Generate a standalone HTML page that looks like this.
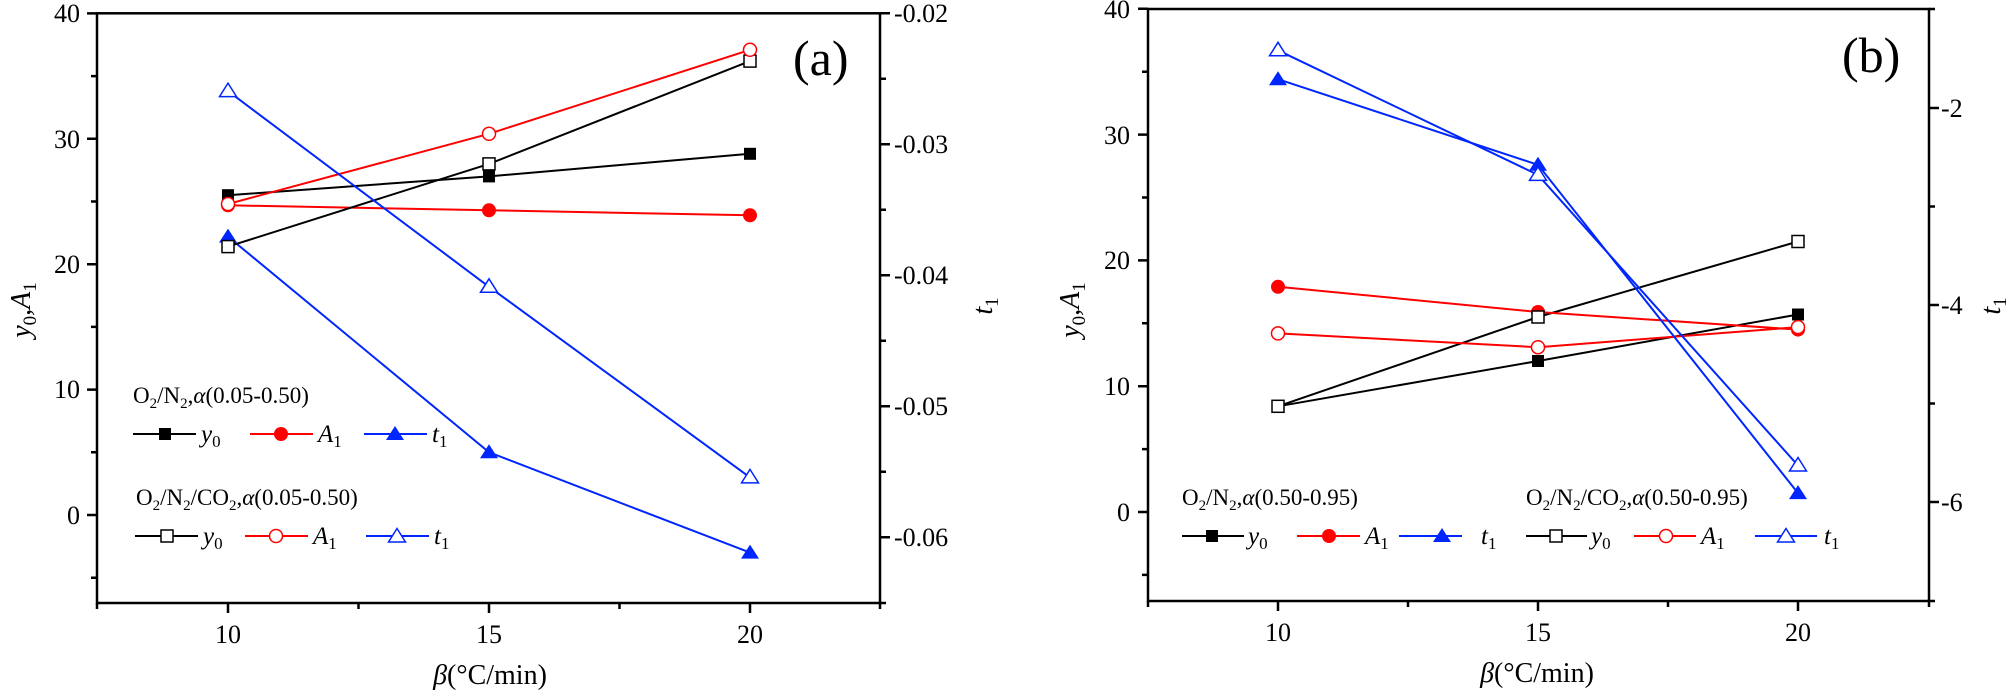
<!DOCTYPE html>
<html><head><meta charset="utf-8"><style>
html,body{margin:0;padding:0;background:#fff;}
svg{display:block;font-family:"Liberation Serif","Times New Roman",serif;}
svg text{font-family:"Liberation Serif","Times New Roman",serif;fill:#000;}
</style></head><body>
<svg width="2006" height="695" viewBox="0 0 2006 695" xmlns="http://www.w3.org/2000/svg" font-family="Liberation Serif, serif">
<!-- ===== Panel A ===== -->
<g stroke="#000" stroke-width="2.5" fill="none">
<rect x="97" y="13.3" width="783" height="589.7"/>
<path d="M97 13.4h-10M97 138.8h-10M97 264.2h-10M97 389.6h-10M97 515h-10M97 76.1h-6M97 201.5h-6M97 326.9h-6M97 452.3h-6M97 577.7h-6"/>
<path d="M880 13.3h10M880 144.3h10M880 275.3h10M880 406.3h10M880 537.3h10M880 78.8h6M880 209.8h6M880 340.8h6M880 471.8h6M880 603h6"/>
<path d="M228 603v10M489 603v10M750 603v10M97 603v6M358.5 603v6M619.5 603v6M880 603v6"/>
</g>
<g font-size="26">
<text x="80" y="22" text-anchor="end">40</text>
<text x="80" y="148" text-anchor="end">30</text>
<text x="80" y="273" text-anchor="end">20</text>
<text x="80" y="398" text-anchor="end">10</text>
<text x="80" y="524" text-anchor="end">0</text>
<text x="894" y="22">-0.02</text>
<text x="894" y="153">-0.03</text>
<text x="894" y="284">-0.04</text>
<text x="894" y="415">-0.05</text>
<text x="894" y="546">-0.06</text>
<text x="228" y="643" text-anchor="middle">10</text>
<text x="489" y="643" text-anchor="middle">15</text>
<text x="750" y="643" text-anchor="middle">20</text>
</g>
<text x="490" y="684" font-size="28" text-anchor="middle"><tspan font-style="italic">β</tspan>(°C/min)</text>
<text transform="translate(30,310) rotate(-90)" font-size="28" text-anchor="middle" font-style="italic">y<tspan font-size="19" dy="6" font-style="normal">0</tspan><tspan dy="-6">,A</tspan><tspan font-size="19" dy="6" font-style="normal">1</tspan></text>
<text transform="translate(992,306) rotate(-90)" font-size="28" text-anchor="middle" font-style="italic">t<tspan font-size="19" dy="6" font-style="normal">1</tspan></text>
<text x="793" y="75" font-size="50">(a)</text>

<g fill="none" stroke-width="2">
<polyline stroke="#000" points="228,195.2 489,176.4 750,153.8"/>
<polyline stroke="#f00" points="228,205.3 489,210.3 750,215.3"/>
<polyline stroke="#0026ff" points="228,236.6 489,452.3 750,552.6"/>
<polyline stroke="#000" points="228,246.6 489,163.9 750,61.1"/>
<polyline stroke="#f00" points="228,204 489,133.8 750,49.8"/>
<polyline stroke="#0026ff" points="228,91.1 489,286.8 750,477.4"/>
</g>
<g fill="#000"><rect x="222" y="189.2" width="12" height="12"/><rect x="483" y="170.4" width="12" height="12"/><rect x="744" y="147.8" width="12" height="12"/></g>
<g fill="#f00"><circle cx="228" cy="205.3" r="7"/><circle cx="489" cy="210.3" r="7"/><circle cx="750" cy="215.3" r="7"/></g>
<g fill="#0026ff"><path d="M228 228.6l-9 14h18z"/><path d="M489 444.3l-9 14h18z"/><path d="M750 544.6l-9 14h18z"/></g>
<g fill="#fff" stroke="#000" stroke-width="1.5"><rect x="222" y="240.6" width="12" height="12"/><rect x="483" y="157.9" width="12" height="12"/><rect x="744" y="55.1" width="12" height="12"/></g>
<g fill="#fff" stroke="#f00" stroke-width="1.5"><circle cx="228" cy="204" r="6.5"/><circle cx="489" cy="133.8" r="6.5"/><circle cx="750" cy="49.8" r="6.5"/></g>
<g fill="#fff" stroke="#0026ff" stroke-width="1.5"><path d="M228 83.1l-8.5 13.5h17z"/><path d="M489 278.8l-8.5 13.5h17z"/><path d="M750 469.4l-8.5 13.5h17z"/></g>

<text x="133" y="403" font-size="23">O<tspan font-size="15" dy="5">2</tspan><tspan dy="-5">/N</tspan><tspan font-size="15" dy="5">2</tspan><tspan dy="-5">,</tspan><tspan font-style="italic">α</tspan>(0.05-0.50)</text>
<g stroke-width="2">
<line x1="133" y1="434" x2="196" y2="434" stroke="#000"/><line x1="250" y1="434" x2="313" y2="434" stroke="#f00"/><line x1="364" y1="434" x2="427" y2="434" stroke="#0026ff"/>
<line x1="135" y1="536" x2="198" y2="536" stroke="#000"/><line x1="245" y1="536" x2="308" y2="536" stroke="#f00"/><line x1="366" y1="536" x2="429" y2="536" stroke="#0026ff"/>
</g>
<rect x="159" y="428" width="12" height="12" fill="#000"/><circle cx="281" cy="434" r="7" fill="#f00"/><path d="M395 426l-9 14h18z" fill="#0026ff"/>
<rect x="161" y="530" width="12" height="12" fill="#fff" stroke="#000" stroke-width="1.5"/><circle cx="276" cy="536" r="6.5" fill="#fff" stroke="#f00" stroke-width="1.5"/><path d="M397 528.5l-8.5 13.5h17z" fill="#fff" stroke="#0026ff" stroke-width="1.5"/>
<text x="136" y="505" font-size="23">O<tspan font-size="15" dy="5">2</tspan><tspan dy="-5">/N</tspan><tspan font-size="15" dy="5">2</tspan><tspan dy="-5">/CO</tspan><tspan font-size="15" dy="5">2</tspan><tspan dy="-5">,</tspan><tspan font-style="italic">α</tspan>(0.05-0.50)</text>
<g font-size="25" font-style="italic">
<text x="201" y="442">y<tspan font-size="17" dy="5" font-style="normal">0</tspan></text>
<text x="318" y="442">A<tspan font-size="17" dy="5" font-style="normal">1</tspan></text>
<text x="432" y="442">t<tspan font-size="17" dy="5" font-style="normal">1</tspan></text>
<text x="203" y="544">y<tspan font-size="17" dy="5" font-style="normal">0</tspan></text>
<text x="313" y="544">A<tspan font-size="17" dy="5" font-style="normal">1</tspan></text>
<text x="434" y="544">t<tspan font-size="17" dy="5" font-style="normal">1</tspan></text>
</g>

<!-- ===== Panel B ===== -->
<g stroke="#000" stroke-width="2.5" fill="none">
<rect x="1148" y="9" width="781" height="592"/>
<path d="M1148 8.8h-10M1148 134.6h-10M1148 260.4h-10M1148 386.2h-10M1148 512h-10M1148 71.7h-6M1148 197.5h-6M1148 323.3h-6M1148 449.1h-6M1148 574.9h-6"/>
<path d="M1929 108h10M1929 305h10M1929 502h10M1929 206.5h6M1929 403.5h6M1929 9h6M1929 601h6"/>
<path d="M1278 601v10M1538 601v10M1798 601v10M1148 601v6M1408 601v6M1668 601v6M1929 601v6"/>
</g>
<g font-size="26">
<text x="1130" y="18" text-anchor="end">40</text>
<text x="1130" y="144" text-anchor="end">30</text>
<text x="1130" y="269" text-anchor="end">20</text>
<text x="1130" y="395" text-anchor="end">10</text>
<text x="1130" y="521" text-anchor="end">0</text>
<text x="1941" y="117">-2</text>
<text x="1941" y="314">-4</text>
<text x="1941" y="511">-6</text>
<text x="1278" y="641" text-anchor="middle">10</text>
<text x="1538" y="641" text-anchor="middle">15</text>
<text x="1798" y="641" text-anchor="middle">20</text>
</g>
<text x="1537" y="682" font-size="28" text-anchor="middle"><tspan font-style="italic">β</tspan>(°C/min)</text>
<text transform="translate(1079,310) rotate(-90)" font-size="28" text-anchor="middle" font-style="italic">y<tspan font-size="19" dy="6" font-style="normal">0</tspan><tspan dy="-6">,A</tspan><tspan font-size="19" dy="6" font-style="normal">1</tspan></text>
<text transform="translate(2000,306) rotate(-90)" font-size="28" text-anchor="middle" font-style="italic">t<tspan font-size="19" dy="6" font-style="normal">1</tspan></text>
<text x="1842" y="72" font-size="50">(b)</text>

<g fill="none" stroke-width="2">
<polyline stroke="#000" points="1278,406.3 1538,361 1798,314.5"/>
<polyline stroke="#000" points="1278,406.3 1538,317 1798,241.5"/>
<polyline stroke="#f00" points="1278,286.8 1538,312 1798,329.6"/>
<polyline stroke="#f00" points="1278,333.4 1538,347.2 1798,327.1"/>
<polyline stroke="#0026ff" points="1278,79.2 1538,164.8 1798,493.1"/>
<polyline stroke="#0026ff" points="1278,50.3 1538,174.9 1798,465.5"/>
</g>
<g fill="#000"><rect x="1272" y="400.3" width="12" height="12"/><rect x="1532" y="355" width="12" height="12"/><rect x="1792" y="308.5" width="12" height="12"/></g>
<g fill="#f00"><circle cx="1278" cy="286.8" r="7"/><circle cx="1538" cy="312" r="7"/><circle cx="1798" cy="329.6" r="7"/></g>
<g fill="#0026ff"><path d="M1278 71.2l-9 14h18z"/><path d="M1538 156.8l-9 14h18z"/><path d="M1798 485.1l-9 14h18z"/></g>
<g fill="#fff" stroke="#000" stroke-width="1.5"><rect x="1272" y="400.3" width="12" height="12"/><rect x="1532" y="311" width="12" height="12"/><rect x="1792" y="235.5" width="12" height="12"/></g>
<g fill="#fff" stroke="#f00" stroke-width="1.5"><circle cx="1278" cy="333.4" r="6.5"/><circle cx="1538" cy="347.2" r="6.5"/><circle cx="1798" cy="327.1" r="6.5"/></g>
<g fill="#fff" stroke="#0026ff" stroke-width="1.5"><path d="M1278 42.3l-8.5 13.5h17z"/><path d="M1538 166.9l-8.5 13.5h17z"/><path d="M1798 457.5l-8.5 13.5h17z"/></g>

<text x="1182" y="505" font-size="23">O<tspan font-size="15" dy="5">2</tspan><tspan dy="-5">/N</tspan><tspan font-size="15" dy="5">2</tspan><tspan dy="-5">,</tspan><tspan font-style="italic">α</tspan>(0.50-0.95)</text>
<text x="1526" y="505" font-size="23">O<tspan font-size="15" dy="5">2</tspan><tspan dy="-5">/N</tspan><tspan font-size="15" dy="5">2</tspan><tspan dy="-5">/CO</tspan><tspan font-size="15" dy="5">2</tspan><tspan dy="-5">,</tspan><tspan font-style="italic">α</tspan>(0.50-0.95)</text>
<g stroke-width="2">
<line x1="1182" y1="536" x2="1244" y2="536" stroke="#000"/><line x1="1297" y1="536" x2="1360" y2="536" stroke="#f00"/><line x1="1399" y1="536" x2="1462" y2="536" stroke="#0026ff"/>
<line x1="1526" y1="536" x2="1587" y2="536" stroke="#000"/><line x1="1634" y1="536" x2="1696" y2="536" stroke="#f00"/><line x1="1755" y1="536" x2="1817" y2="536" stroke="#0026ff"/>
</g>
<rect x="1206" y="530" width="12" height="12" fill="#000"/><circle cx="1329" cy="536" r="7" fill="#f00"/><path d="M1442 528l-9 14h18z" fill="#0026ff"/>
<rect x="1550" y="530" width="12" height="12" fill="#fff" stroke="#000" stroke-width="1.5"/><circle cx="1666" cy="536" r="6.5" fill="#fff" stroke="#f00" stroke-width="1.5"/><path d="M1786 528.5l-8.5 13.5h17z" fill="#fff" stroke="#0026ff" stroke-width="1.5"/>
<g font-size="25" font-style="italic">
<text x="1248" y="544">y<tspan font-size="17" dy="5" font-style="normal">0</tspan></text>
<text x="1365" y="544">A<tspan font-size="17" dy="5" font-style="normal">1</tspan></text>
<text x="1481" y="544">t<tspan font-size="17" dy="5" font-style="normal">1</tspan></text>
<text x="1591" y="544">y<tspan font-size="17" dy="5" font-style="normal">0</tspan></text>
<text x="1701" y="544">A<tspan font-size="17" dy="5" font-style="normal">1</tspan></text>
<text x="1824" y="544">t<tspan font-size="17" dy="5" font-style="normal">1</tspan></text>
</g>
</svg>
</body></html>
